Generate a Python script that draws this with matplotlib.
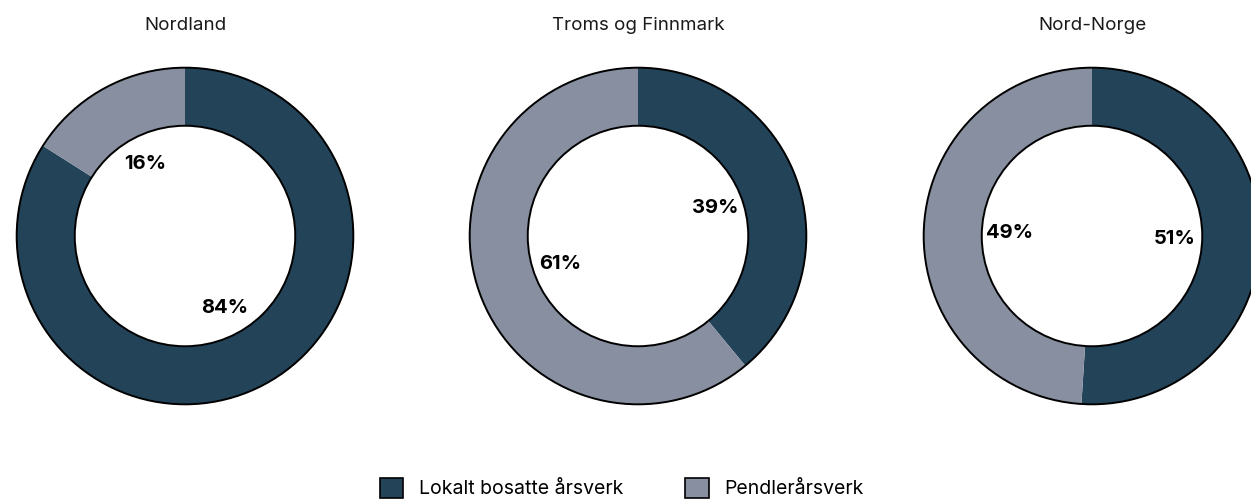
import numpy as np
import matplotlib
matplotlib.use('Agg')
import matplotlib.pyplot as plt
from matplotlib.patches import Circle, Patch

plt.rcParams['font.family'] = ['Inter', 'DejaVu Sans']

# ── data ──
regions = ['Nordland', 'Troms og Finnmark', 'Nord-Norge']
lokalt = [84, 39, 51]
pendler = [16, 61, 49]
series_names = ['Lokalt bosatte årsverk', 'Pendlerårsverk']

DARK = '#234359'
GRAY = '#878fa0'

W, H = 1251, 499
fig = plt.figure(figsize=(W / 100, H / 100), dpi=100)

centers_x = [185, 638, 1092]
center_y = 236
R = 170
HOLE = 0.655

for name, lo, pe, cx in zip(regions, lokalt, pendler, centers_x):
    ax = fig.add_axes([(cx - R) / W, (H - center_y - R) / H, 2 * R / W, 2 * R / H])
    wedges, _ = ax.pie([lo, pe], colors=[DARK, GRAY], startangle=90,
                       counterclock=False, radius=1,
                       wedgeprops=dict(width=1 - HOLE, edgecolor='none'))
    # kun kant på ytre og indre ring
    ax.add_patch(Circle((0, 0), 1, fill=False, edgecolor='black', lw=1.4))
    ax.add_patch(Circle((0, 0), HOLE, fill=False, edgecolor='black', lw=1.4))
    for w, v in zip(wedges, [lo, pe]):
        mid = np.deg2rad((w.theta1 + w.theta2) / 2)
        ax.text(0.49 * np.cos(mid), 0.49 * np.sin(mid), f'{v}%',
                ha='center', va='center', fontsize=14.5, fontweight='bold',
                color='black')
    ax.set_xlim(-1.01, 1.01)
    ax.set_ylim(-1.01, 1.01)
    ax.set_aspect('equal')
    ax.axis('off')
    fig.text(cx / W, 1 - 26 / H, name, ha='center', va='center',
             fontsize=13.5, color='#1a1a1a')

handles = [Patch(facecolor=DARK, edgecolor='black', lw=1.2),
           Patch(facecolor=GRAY, edgecolor='black', lw=1.2)]
fig.legend(handles, series_names, loc='center', bbox_to_anchor=(0.497, 1 - 488 / H),
           ncol=2, frameon=False, fontsize=14, handlelength=1.2,
           handleheight=1.2, handletextpad=0.8, columnspacing=3.2)

fig.savefig('out.png', dpi=100, facecolor='white')
